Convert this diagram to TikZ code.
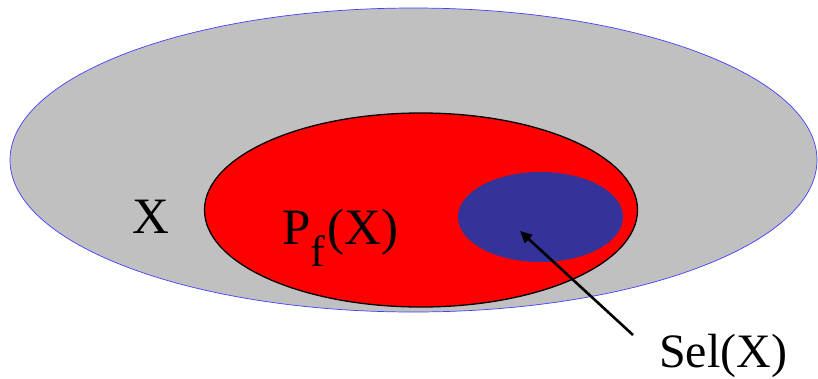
\documentclass[tikz,border=0pt]{standalone}
\usepackage{fontspec}
\setmainfont{Liberation Serif}
\usetikzlibrary{arrows.meta}
\definecolor{setgray}{HTML}{C0C0C0}
\definecolor{setred}{HTML}{FF0000}
\definecolor{setblue}{HTML}{333399}
\definecolor{rimblue}{HTML}{4040FF}
\tikzset{
  lbl/.style={anchor=base west, inner sep=0pt, font=\fontsize{51}{51}\selectfont},
  pointer/.style={draw=black, line width=2.6pt, -{Triangle[length=12pt,width=11pt]}}
}
\begin{document}
\begin{tikzpicture}[x=1pt,y=-1pt]
\useasboundingbox (0,0) rectangle (818,378);
\fill[white] (0,0) rectangle (818,378);
\draw[fill=setgray, draw=rimblue, line width=0.7pt] (413.5,160) ellipse [x radius=403.5, y radius=152];
\draw[fill=setred, draw=black, line width=1.3pt] (421,210) ellipse [x radius=216.5, y radius=97];
\fill[setblue] (540.5,217) ellipse [x radius=82.5, y radius=45];
\node[lbl] (X) at (132,233) {X};
\node[lbl] (PfX) at (282,244) {P\raisebox{-22pt}{\fontsize{44}{44}\selectfont f}\kern2pt(X)};
\node[lbl, font=\fontsize{48}{48}\selectfont] (Sel) at (659,367) {Sel(X)};
\coordinate (tail) at (633,335);
\coordinate (tip) at (520,231);
\draw[pointer] (tail) -- (tip);
\end{tikzpicture}
\end{document}
